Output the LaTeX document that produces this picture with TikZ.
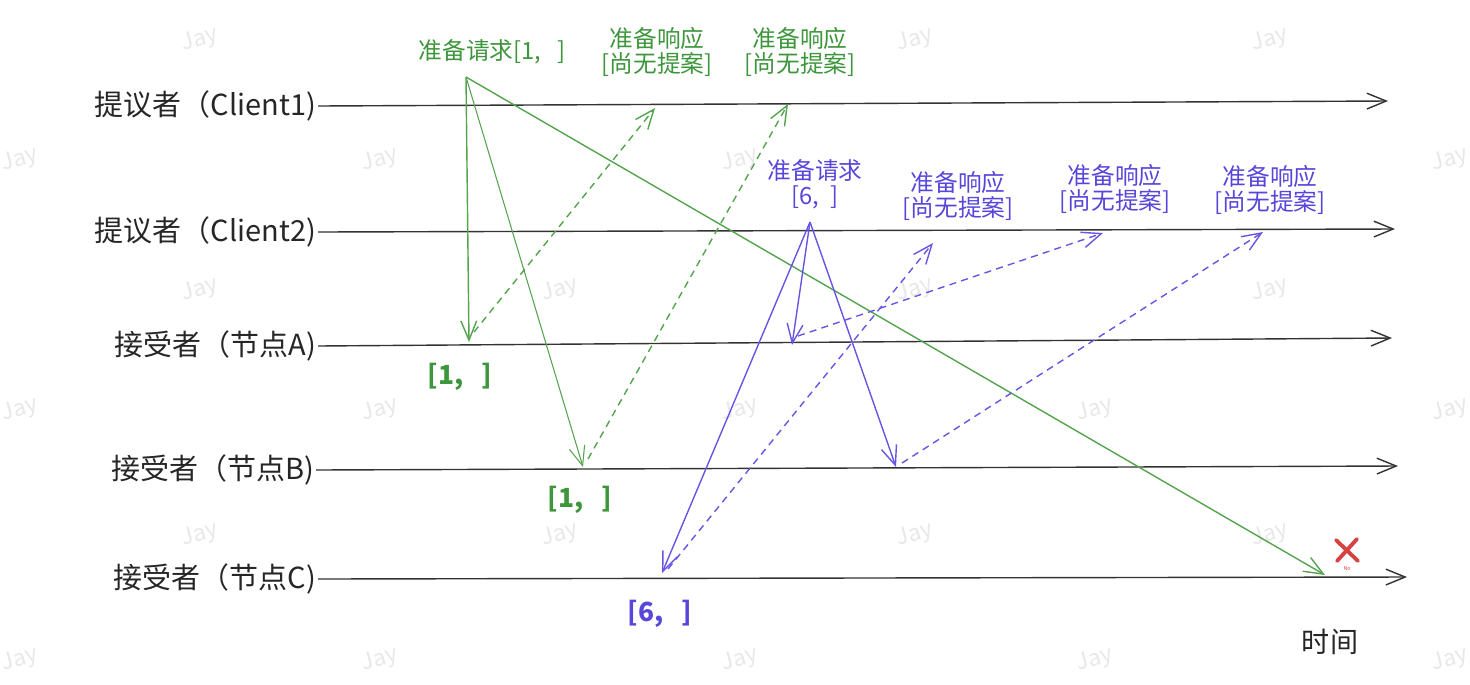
\documentclass[tikz,border=0pt]{standalone}
\usepackage{fontspec}
\setmainfont{Noto Sans CJK SC}
\usetikzlibrary{arrows.meta, positioning}
\definecolor{ReqGreen}{RGB}{84,164,78}
\definecolor{TxtGreen}{RGB}{62,150,60}
\definecolor{ReqBlue}{RGB}{102,86,226}
\definecolor{TxtBlue}{RGB}{88,70,218}
\definecolor{FailRed}{RGB}{214,66,66}
\tikzset{
  >=latex,
  % Linee del tempo
  lane/.style={thick,black!80,-{Straight Barb[length=11pt,width=9pt]}},
  lane label/.style={font=\fontsize{16.5}{19}\selectfont,text=black!85,inner sep=1pt,anchor=east},
  % Messaggi
  req green/.style={ReqGreen,line width=0.8pt,-{Straight Barb[length=11pt,width=9pt]}},
  rep green/.style={req green,dash pattern=on 4pt off 3pt},
  req blue/.style={ReqBlue,line width=0.8pt,-{Straight Barb[length=11pt,width=9pt]}},
  rep blue/.style={req blue,dash pattern=on 4pt off 3pt},
  % Testi
  txt green/.style={font=\fontsize{13.5}{14}\selectfont,text=TxtGreen,align=center,inner sep=1pt},
  txt blue/.style={font=\fontsize{13.5}{14}\selectfont,text=TxtBlue,align=center,inner sep=1pt},
  val/.style={font=\fontsize{15}{16}\selectfont\bfseries,inner sep=1pt},
  wm/.style={font=\fontsize{13}{14}\selectfont,text=black!9,rotate=15}
}
\begin{document}
\begin{tikzpicture}[x=0.02cm,y=-0.02cm]
  \useasboundingbox (0,0) rectangle (1470,684);
  % filigrana
  \foreach \wx/\wy in {200/40,915/40,1270/40,
      20/160,380/160,740/160,1450/160,
      200/290,560/290,915/290,1270/290,
      20/410,380/410,740/410,1095/410,1450/410,
      200/535,560/535,915/535,1270/535,
      20/660,380/660,740/660,1095/660,1450/660}
    \node[wm] (wm-\wx-\wy) at (\wx,\wy) {Jay};

  % linee del tempo
  \node[lane label] (cl1) at (318,106) {提议者（Client1)};
  \node[lane label] (cl2) at (318,232) {提议者（Client2)};
  \node[lane label] (na) at (318,346) {接受者（节点A)};
  \node[lane label] (nb) at (316,470) {接受者（节点B)};
  \node[lane label] (nc) at (318,579) {接受者（节点C)};
  \coordinate (cl1 end) at (1388,101);
  \coordinate (cl2 end) at (1395,229);
  \coordinate (na end) at (1392,338);
  \coordinate (nb end) at (1398,466);
  \coordinate (nc end) at (1407,577);
  \draw[lane] (cl1.east) -- (cl1 end);
  \draw[lane] (cl2.east) -- (cl2 end);
  \draw[lane] (na.east) -- (na end);
  \draw[lane] (nb.east) -- (nb end);
  \draw[lane] (nc.east) -- (nc end);
  \node[font=\fontsize{16}{18}\selectfont,text=black!85] (tempo) at (1330,642) {时间};

  % proposta [1, ] (Client1)
  \node[txt green] (p1 txt) at (492,52) {准备请求[1,~~~]};
  \coordinate (p1) at (466,77);
  \coordinate (a1) at (469,342);
  \coordinate (b1) at (583,467);
  \coordinate (c1) at (1325,575);
  \draw[req green] (p1) -- (a1);
  \draw[req green,line width=0.6pt] (p1) -- (b1);
  \draw[req green] (p1) -- (c1);
  \coordinate (a1 rep) at (474,332);
  \coordinate (b1 rep) at (588,459);
  \coordinate (r1) at (655,108);
  \coordinate (r2) at (788,104);
  \draw[rep green] (a1 rep) -- (r1);
  \draw[rep green] (b1 rep) -- (r2);
  \node[txt green] (r1 txt) at (657,52) {准备响应\\{[}尚无提案{]}};
  \node[txt green] (r2 txt) at (800,52) {准备响应\\{[}尚无提案{]}};
  \node[val,text=TxtGreen] (a1 val) at (460,377) {[1,~~~]};
  \node[val,text=TxtGreen] (b1 val) at (580,500) {[1,~~~]};

  % proposta [6, ] (Client2)
  \node[txt blue] (p2 txt) at (815,184) {准备请求\\{[}6,~~{]}};
  \coordinate (p2) at (810,222);
  \coordinate (a2) at (792,345);
  \coordinate (b2) at (896,467);
  \coordinate (c2) at (662,573);
  \draw[req blue] (p2) -- (a2);
  \draw[req blue] (p2) -- (b2);
  \draw[req blue] (p2) -- (c2);
  \coordinate (a2 rep) at (798,336);
  \coordinate (b2 rep) at (902,463);
  \coordinate (c2 rep) at (668,569);
  \coordinate (r3) at (933,243);
  \coordinate (r4) at (1103,233);
  \coordinate (r5) at (1263,232);
  \draw[rep blue] (c2 rep) -- (r3);
  \draw[rep blue] (a2 rep) -- (r4);
  \draw[rep blue] (b2 rep) -- (r5);
  \node[txt blue] (r3 txt) at (958,196) {准备响应\\{[}尚无提案{]}};
  \node[txt blue] (r4 txt) at (1115,189) {准备响应\\{[}尚无提案{]}};
  \node[txt blue] (r5 txt) at (1270,190) {准备响应\\{[}尚无提案{]}};
  \node[val,text=TxtBlue] (c2 val) at (660,614) {[6,~~~]};

  % rifiuto
  \draw[FailRed,line width=2.2pt,line cap=round] (1336,540) -- (1358,561);
  \draw[FailRed,line width=2.2pt,line cap=round] (1357,539) -- (1337,561);
  \node[font=\fontsize{3}{3}\selectfont,text=FailRed,inner sep=0pt] (no) at (1347,569) {No};
\end{tikzpicture}
\end{document}
